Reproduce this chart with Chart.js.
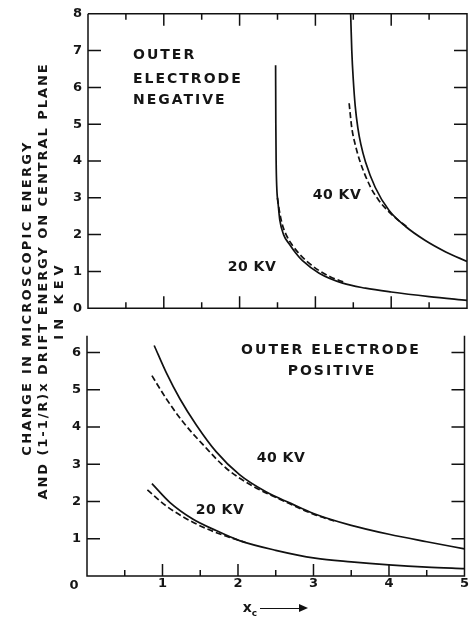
<!DOCTYPE html>
<html lang="en">
<head>
<meta charset="UTF-8" />
<title>Energy change vs x_c</title>
<script src="https://cdn.jsdelivr.net/npm/chart.js"></script>
<style>
  body { margin: 0; background: #fff; }
  #page { position: relative; width: 469px; height: 624px; overflow: hidden; font-family: "DejaVu Sans", sans-serif; color: #151515; }
  .box { position: absolute; left: 0; width: 469px; }
  .lbl { position: absolute; transform: translate(-50%, -50%); white-space: nowrap; font-size: 14px; font-weight: bold; letter-spacing: 2px; line-height: 1; }
  .left { transform: translate(0, -50%); }
  .kv { letter-spacing: 0.5px; }
  .ytitle { position: absolute; transform: translate(-50%, -50%) rotate(-90deg); white-space: nowrap; font-size: 13px; font-weight: bold; letter-spacing: 2px; line-height: 1; }
  #arrow { position: absolute; left: 260px; top: 608px; width: 44px; height: 0; border-top: 1.5px solid #111; }
  #arrow:after { content: ""; position: absolute; right: -4px; top: -5.5px; border-left: 9px solid #111; border-top: 4px solid transparent; border-bottom: 4px solid transparent; }
</style>
</head>
<body>
<div id="page">
  <div class="box" style="top:0;height:322px"><canvas id="topChart"></canvas></div>
  <div class="box" style="top:322px;height:302px"><canvas id="botChart"></canvas></div>

  <div class="ytitle" style="left:26px;top:298px;letter-spacing:2.3px">CHANGE IN MICROSCOPIC ENERGY</div>
  <div class="ytitle" style="left:42px;top:281px;letter-spacing:1.95px">AND (1-1/R)x DRIFT ENERGY ON CENTRAL PLANE</div>
  <div class="ytitle" style="left:58px;top:300px;letter-spacing:5px">IN KEV</div>

  <div class="lbl left" style="left:133px;top:54px">OUTER</div>
  <div class="lbl left" style="left:133px;top:78px">ELECTRODE</div>
  <div class="lbl left" style="left:133px;top:99px">NEGATIVE</div>
  <div class="lbl kv" style="left:337px;top:194px">40 KV</div>
  <div class="lbl kv" style="left:252px;top:266px">20 KV</div>

  <div class="lbl" style="left:331px;top:349px">OUTER ELECTRODE</div>
  <div class="lbl" style="left:332px;top:370px">POSITIVE</div>
  <div class="lbl kv" style="left:281px;top:457px">40 KV</div>
  <div class="lbl kv" style="left:220px;top:509px">20 KV</div>

  <div class="lbl" style="left:74px;top:584px;font-size:13px;letter-spacing:0">0</div>
  <div class="lbl" style="left:250px;top:609px;letter-spacing:0">x<sub style="font-size:9px">c</sub></div>
  <div id="arrow"></div>
</div>

<script>
  // axis ticks
  const xTicks = [0, 0.5, 1, 1.5, 2, 2.5, 3, 3.5, 4, 4.5, 5];
  const xLabels = ['', '', '1', '', '2', '', '3', '', '4', '', '5'];
  const yTicksTop = [0, 1, 2, 3, 4, 5, 6, 7, 8];
  const yTicksBot = [0, 1, 2, 3, 4, 5, 6];

  // outer electrode negative (top panel)
  const neg20x = [2.475, 2.478, 2.482, 2.49, 2.51, 2.53, 2.58, 2.66, 2.74, 2.83, 3.05, 3.36, 3.66, 4.0, 4.5, 5.0];
  const neg20y = [6.6, 5.0, 4.0, 3.3, 2.8, 2.4, 2.0, 1.73, 1.5, 1.29, 0.95, 0.68, 0.545, 0.44, 0.315, 0.21];
  const neg20dx = [2.50, 2.52, 2.56, 2.62, 2.70, 2.79, 2.90, 3.05, 3.2, 3.4];
  const neg20dy = [3.0, 2.7, 2.3, 1.97, 1.70, 1.47, 1.25, 1.02, 0.85, 0.69];
  const neg40x = [3.465, 3.48, 3.50, 3.525, 3.56, 3.60, 3.66, 3.79, 3.97, 4.19, 4.45, 4.72, 5.0];
  const neg40y = [8.0, 7.0, 6.2, 5.5, 4.9, 4.45, 3.98, 3.28, 2.66, 2.22, 1.84, 1.53, 1.27];
  const neg40dx = [3.445, 3.48, 3.525, 3.59, 3.73, 3.83, 3.94, 4.06, 4.2];
  const neg40dy = [5.57, 4.9, 4.45, 3.98, 3.28, 2.95, 2.68, 2.45, 2.22];

  // outer electrode positive (bottom panel)
  const pos40x = [0.89, 1.05, 1.23, 1.45, 1.71, 2.02, 2.37, 2.7, 3.0, 3.5, 4.0, 4.5, 5.0];
  const pos40y = [6.19, 5.46, 4.76, 4.05, 3.34, 2.72, 2.26, 1.95, 1.68, 1.36, 1.12, 0.92, 0.73];
  const pos40dx = [0.86, 1.05, 1.27, 1.54, 1.84, 2.20, 2.59, 3.0, 3.3];
  const pos40dy = [5.38, 4.76, 4.14, 3.52, 2.90, 2.41, 2.03, 1.66, 1.46];
  const pos20x = [0.86, 1.10, 1.40, 1.71, 2.02, 2.5, 3.02, 3.5, 4.0, 4.5, 5.0];
  const pos20y = [2.48, 1.97, 1.53, 1.22, 0.95, 0.69, 0.48, 0.38, 0.30, 0.24, 0.20];
  const pos20dx = [0.80, 1.05, 1.36, 1.62, 1.9, 2.1];
  const pos20dy = [2.31, 1.88, 1.49, 1.24, 1.03, 0.9];

  Chart.defaults.font.family = 'DejaVu Sans';
  Chart.defaults.color = '#151515';

  function series(xs, ys, dashed) {
    return {
      data: xs.map((v, i) => ({ x: v, y: ys[i] })),
      showLine: true,
      borderColor: '#111',
      borderWidth: 1.7,
      borderDash: dashed ? [6, 3] : [],
      pointRadius: 0,
      cubicInterpolationMode: 'monotone'
    };
  }

  // frame lines and inward tick marks, placed through the chart's own scales
  const frame = {
    id: 'frame',
    afterDatasetsDraw(chart, args, o) {
      const { ctx, chartArea: a } = chart;
      const x = chart.scales.x, y = chart.scales.y;
      ctx.save();
      ctx.strokeStyle = '#111';
      ctx.lineWidth = 1.5;
      ctx.beginPath();
      ctx.moveTo(a.left, a.top);
      ctx.lineTo(a.left, a.bottom);
      ctx.lineTo(a.right, a.bottom);
      ctx.lineTo(a.right, a.top);
      if (o.closed) ctx.lineTo(a.left, a.top);
      xTicks.forEach(v => {
        const px = x.getPixelForValue(v), len = v % 1 === 0 ? 12 : 6;
        ctx.moveTo(px, a.bottom); ctx.lineTo(px, a.bottom - len);
        if (o.closed) { ctx.moveTo(px, a.top); ctx.lineTo(px, a.top + len); }
      });
      o.yTicks.forEach(v => {
        if (v <= y.min || v >= y.max) return;
        const py = y.getPixelForValue(v);
        ctx.moveTo(a.left, py); ctx.lineTo(a.left + 13, py);
        ctx.moveTo(a.right, py); ctx.lineTo(a.right - 13, py);
      });
      ctx.stroke();
      ctx.restore();
    }
  };

  function makeChart(id, datasets, o) {
    return new Chart(document.getElementById(id), {
      type: 'scatter',
      data: { datasets: datasets },
      plugins: [frame],
      options: {
        responsive: true,
        maintainAspectRatio: false,
        animation: false,
        layout: { padding: { top: 10, right: o.right, left: 0, bottom: 0 } },
        plugins: {
          legend: { display: false },
          tooltip: { enabled: false },
          frame: { closed: o.closed, yTicks: o.yTicks }
        },
        scales: {
          x: {
            min: 0, max: 5,
            grid: { display: false, drawTicks: false },
            border: { display: false },
            afterBuildTicks: s => { s.ticks = xTicks.map(v => ({ value: v })); },
            afterFit: s => { s.height = o.xHeight; },
            ticks: {
              display: o.xLabels,
              autoSkip: false, maxRotation: 0, padding: 0,
              font: { size: 13, weight: 'bold' },
              callback: (v, i) => xLabels[i]
            }
          },
          y: {
            min: 0, max: o.yMax,
            grid: { display: false, drawTicks: false },
            border: { display: false },
            afterBuildTicks: s => { s.ticks = o.yTicks.map(v => ({ value: v })); },
            afterFit: s => { s.width = o.yWidth; },
            ticks: {
              autoSkip: false, padding: 6,
              font: { size: 13, weight: 'bold' },
              callback: (v, i) => (o.hideZero && v === 0) ? '' : String(v)
            }
          }
        }
      }
    });
  }

  makeChart('topChart', [
    series(neg20dx, neg20dy, true),
    series(neg20x, neg20y, false),
    series(neg40dx, neg40dy, true),
    series(neg40x, neg40y, false)
  ], { closed: true, yTicks: yTicksTop, yMax: 8, xHeight: 10, xLabels: false, yWidth: 88, right: 2, hideZero: false });

  makeChart('botChart', [
    series(pos40dx, pos40dy, true),
    series(pos40x, pos40y, false),
    series(pos20dx, pos20dy, true),
    series(pos20x, pos20y, false)
  ], { closed: false, yTicks: yTicksBot, yMax: 6.45, xHeight: 48, xLabels: true, yWidth: 87, right: 3, hideZero: true });
</script>
</body>
</html>
